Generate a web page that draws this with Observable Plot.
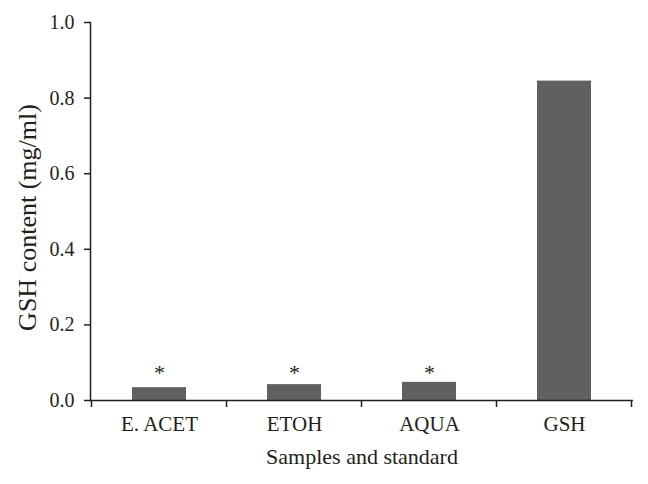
<!DOCTYPE html>
<html>
<head>
<meta charset="utf-8">
<script src="https://cdn.jsdelivr.net/npm/d3@7"></script>
<script src="https://cdn.jsdelivr.net/npm/@observablehq/plot@0.6"></script>
<style>
  html, body { margin: 0; padding: 0; background: #fff; }
  #chart { width: 648px; height: 484px; }
</style>
</head>
<body>
<div id="chart"></div>
<script>
const categories = ["E. ACET", "ETOH", "AQUA", "GSH"];
const values = [0.034, 0.042, 0.048, 0.845];
const significant = [true, true, true, false];
const starLevel = 0.073;
const yTicks = [0, 0.2, 0.4, 0.6, 0.8, 1.0];
const xTitle = "Samples and standard";
const yTitle = "GSH content (mg/ml)";

const data = categories.map((c, i) => ({cat: c, val: values[i], sig: significant[i]}));
const ink = "#231f20";

function boundaryTicks(index, scales, values, dimensions) {
  const g = d3.create("svg:g");
  const xs = categories.map(c => scales.x(c));
  const step = xs[1] - xs[0];
  const y0 = dimensions.height - dimensions.marginBottom;
  const bounds = xs.map(x => x - step * 0.3);
  bounds.push(bounds[bounds.length - 1] + step);
  for (const b of bounds) {
    g.append("line")
      .attr("x1", b).attr("x2", b)
      .attr("y1", y0).attr("y2", y0 + 7)
      .attr("stroke", ink).attr("stroke-width", 1.5);
  }
  return g.node();
}

const chart = Plot.plot({
  width: 648,
  height: 484,
  marginLeft: 90,
  marginRight: 15,
  marginTop: 22,
  marginBottom: 84,
  style: {fontFamily: "'Liberation Serif', serif", fontSize: "20px", color: ink, background: "#fff"},
  x: {domain: categories, paddingInner: 0.6, paddingOuter: 0.3},
  y: {domain: [0, 1]},
  marks: [
    Plot.barY(data, {x: "cat", y: "val", fill: "#606060"}),
    Plot.text(data.filter(d => d.sig), {x: "cat", y: () => starLevel, text: () => "*", fill: ink, fontSize: 22}),
    Plot.frame({anchor: "left", stroke: ink, strokeWidth: 1.5}),
    Plot.ruleY([0], {stroke: ink, strokeWidth: 1.5}),
    Plot.axisY({ticks: yTicks, tickFormat: d3.format(".1f"), tickSize: 6, tickPadding: 10, fontSize: 20,
      label: null, stroke: ink, strokeWidth: 1.5, fill: ink}),
    Plot.axisX({tickSize: 0, tickPadding: 16, fontSize: 21, label: null, fill: ink}),
    Plot.text([yTitle], {frameAnchor: "left", textAnchor: "middle", lineAnchor: "middle", rotate: -90, dx: -63, dy: 6, fontSize: 26, fill: ink}),
    Plot.text([xTitle], {frameAnchor: "bottom", textAnchor: "middle", dy: 63, fontSize: 22, fill: ink}),
    boundaryTicks
  ]
});
document.getElementById("chart").appendChild(chart);
</script>
</body>
</html>
